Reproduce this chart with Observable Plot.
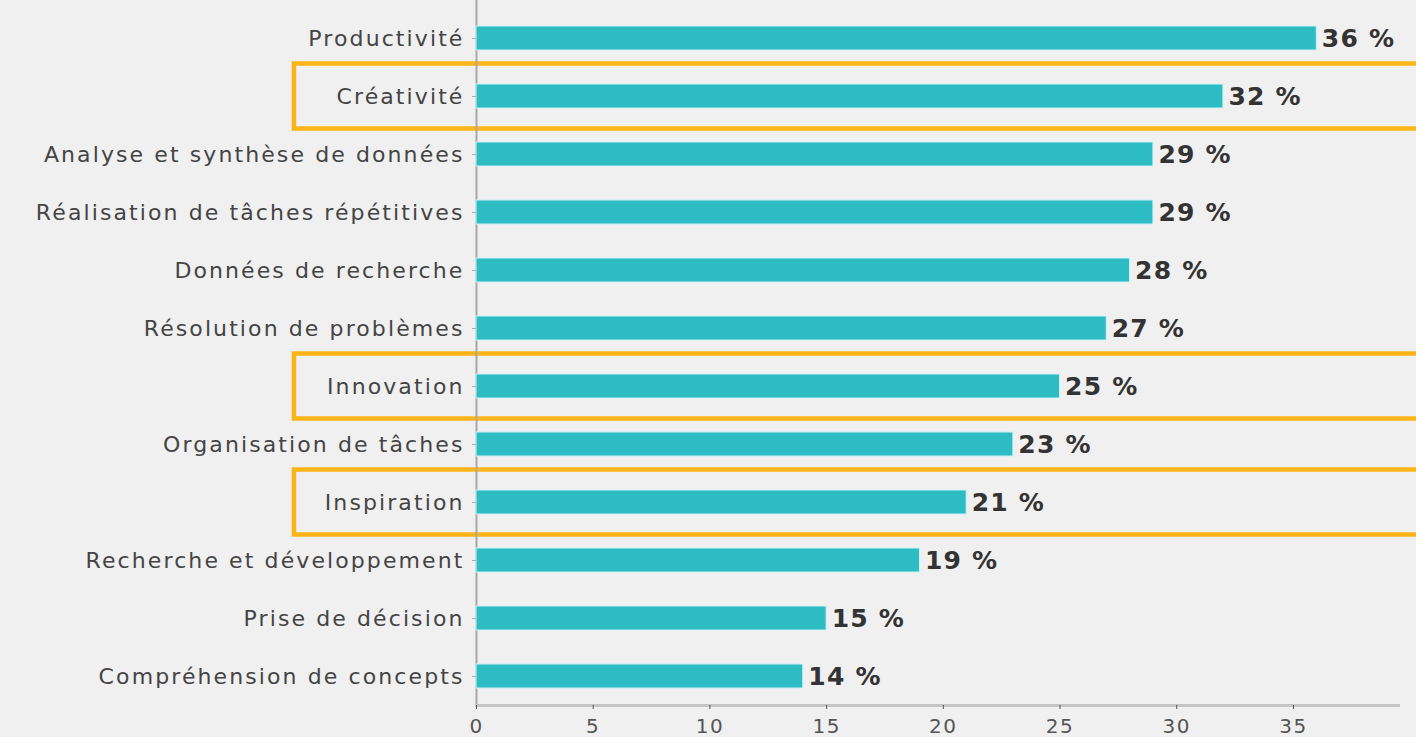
<!DOCTYPE html>
<html>
<head>
<meta charset="utf-8">
<script src="https://cdn.jsdelivr.net/npm/d3@7"></script>
<script src="https://cdn.jsdelivr.net/npm/@observablehq/plot@0.6"></script>
<style>
  html, body { margin: 0; padding: 0; background: #f0f0f0; }
  #chart svg { display: block; }
  #chart svg g[aria-label="y-axis tick label"] text { letter-spacing: 2.1px; }
  #chart svg g[aria-label="x-axis tick label"] text { letter-spacing: 1.5px; }
  #chart svg g[aria-label="text"] text { letter-spacing: 1.2px; }
</style>
</head>
<body>
<div id="chart"></div>
<script>
const categories = [
  "Productivité",
  "Créativité",
  "Analyse et synthèse de données",
  "Réalisation de tâches répétitives",
  "Données de recherche",
  "Résolution de problèmes",
  "Innovation",
  "Organisation de tâches",
  "Inspiration",
  "Recherche et développement",
  "Prise de décision",
  "Compréhension de concepts"
];
const values = [36, 32, 29, 29, 28, 27, 25, 23, 21, 19, 15, 14];
const highlighted = ["Créativité", "Innovation", "Inspiration"];
const xTicks = [0, 5, 10, 15, 20, 25, 30, 35];

const data = categories.map((c, i) => ({category: c, value: values[i]}));

const font = "'DejaVu Sans', sans-serif";

const chart = Plot.plot({
  width: 1416,
  height: 737,
  marginLeft: 476,
  marginRight: 18,
  marginTop: 9,
  marginBottom: 32,
  style: {background: "#f0f0f0", fontFamily: font, overflow: "visible"},
  x: {domain: [0, 39.5]},
  y: {domain: categories, paddingInner: 0.59, paddingOuter: 0.295},
  marks: [
    Plot.barX(highlighted, {
      y: d => d, x1: -7.8, x2: 42,
      insetTop: -20.5, insetBottom: -20.5,
      fill: "none", stroke: "#fcb417", strokeWidth: 4.5
    }),
    Plot.ruleX([0], {stroke: "#a8a8a8", strokeWidth: 2, insetTop: -9}),
    Plot.frame({anchor: "bottom", stroke: "#c4c4c4", strokeWidth: 3}),
    Plot.barX(data, {y: "category", x: "value", fill: "#2dbcc3", stroke: "#cdf3f5", strokeWidth: 1}),
    Plot.text(data, {
      y: "category", x: "value", text: d => `${d.value} %`,
      dx: 5, textAnchor: "start", fontSize: 25, fontWeight: "bold", fill: "#333333"
    }),
    Plot.axisY({
      tickSize: 4, tickPadding: 8, fontSize: 22, color: "#444444", stroke: "#aaaaaa",
      label: null
    }),
    Plot.axisX({
      ticks: xTicks, tickSize: 4, tickPadding: 9, fontSize: 20, color: "#555555",
      label: null
    })
  ]
});
document.getElementById("chart").appendChild(chart);
</script>
</body>
</html>
